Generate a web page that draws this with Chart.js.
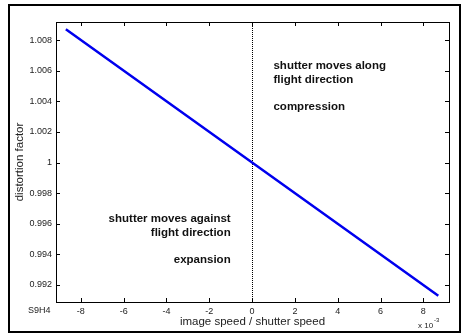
<!DOCTYPE html>
<html>
<head>
<meta charset="utf-8">
<script src="https://cdn.jsdelivr.net/npm/chart.js@4/dist/chart.umd.min.js"></script>
<style>
  html, body { margin: 0; padding: 0; background: #fff; }
  #wrap { width: 462px; height: 336px; position: relative; }
</style>
</head>
<body>
<div id="wrap"><canvas id="distChart"></canvas></div>
<script>
// image speed / shutter speed vs distortion factor
const speedRatio = [-0.0087, -0.004, 0, 0.004, 0.0087];
const distortion = [1.0087, 1.0040, 1.0000, 0.9960, 0.9913];

const xTicks = [-0.008, -0.006, -0.004, -0.002, 0, 0.002, 0.004, 0.006, 0.008];
const xTickLabels = ['-8', '-6', '-4', '-2', '0', '2', '4', '6', '8'];
const yTicks = [0.992, 0.994, 0.996, 0.998, 1, 1.002, 1.004, 1.006, 1.008];
const yTickLabels = ['0.992', '0.994', '0.996', '0.998', '1', '1.002', '1.004', '1.006', '1.008'];

const notes = [
  { x: 0.001, y: 1.0063, align: 'left', lines: ['shutter moves along', 'flight direction'] },
  { x: 0.001, y: 1.00362, align: 'left', lines: ['compression'] },
  { x: -0.001, y: 0.9963, align: 'right', lines: ['shutter moves against', 'flight direction'] },
  { x: -0.001, y: 0.99362, align: 'right', lines: ['expansion'] }
];

const FONT = 'Arial, "Liberation Sans", sans-serif';

// frame, inward ticks, zero line and text
const decorations = {
  id: 'decorations',
  beforeDatasetsDraw(chart) {
    const { ctx, chartArea: a, scales } = chart;
    const xs = scales.x;
    ctx.save();
    // dotted line at zero
    const x0 = Math.round(xs.getPixelForValue(0)) + 0.5;
    ctx.strokeStyle = '#000';
    ctx.lineWidth = 1;
    ctx.setLineDash([1, 1]);
    ctx.beginPath();
    ctx.moveTo(x0, a.top);
    ctx.lineTo(x0, a.bottom);
    ctx.stroke();
    ctx.setLineDash([]);
    ctx.restore();
  },
  afterDraw(chart) {
    const { ctx, chartArea: a, scales } = chart;
    const xs = scales.x, ys = scales.y;
    ctx.save();
    ctx.strokeStyle = '#000';
    // outer frame
    ctx.lineWidth = 2;
    ctx.strokeRect(9, 5, 451, 327);
    // axes box
    ctx.lineWidth = 1;
    ctx.strokeRect(a.left + 0.5, a.top + 0.5, a.right - a.left, a.bottom - a.top);
    // inward tick marks on all four sides
    ctx.beginPath();
    xTicks.forEach(v => {
      const px = Math.round(xs.getPixelForValue(v)) + 0.5;
      ctx.moveTo(px, a.bottom); ctx.lineTo(px, a.bottom - 4);
      ctx.moveTo(px, a.top); ctx.lineTo(px, a.top + 4);
    });
    yTicks.forEach(v => {
      const py = Math.round(ys.getPixelForValue(v)) + 0.5;
      ctx.moveTo(a.left, py); ctx.lineTo(a.left + 4, py);
      ctx.moveTo(a.right, py); ctx.lineTo(a.right - 4, py);
    });
    ctx.stroke();

    // annotations
    ctx.fillStyle = '#111';
    ctx.font = 'bold 11.5px ' + FONT;
    ctx.textBaseline = 'middle';
    notes.forEach(n => {
      ctx.textAlign = n.align;
      const px = xs.getPixelForValue(n.x);
      const py = ys.getPixelForValue(n.y);
      n.lines.forEach((t, i) => ctx.fillText(t, px, py + i * 14));
    });

    // axis titles
    ctx.fillStyle = '#222';
    ctx.font = '11.5px ' + FONT;
    ctx.textAlign = 'center';
    ctx.fillText('image speed / shutter speed', (a.left + a.right) / 2, 322);
    ctx.save();
    ctx.translate(20, (a.top + a.bottom) / 2);
    ctx.rotate(-Math.PI / 2);
    ctx.fillText('distortion factor', 0, 0);
    ctx.restore();

    // exponent and figure tag
    ctx.font = '8px ' + FONT;
    ctx.textAlign = 'left';
    ctx.fillText('x 10', 418, 326);
    ctx.font = '6px ' + FONT;
    ctx.fillText('-3', 434, 320);
    ctx.font = '9px ' + FONT;
    ctx.fillText('S9H4', 28, 311);
    ctx.restore();
  }
};

new Chart(document.getElementById('distChart'), {
  type: 'scatter',
  data: {
    datasets: [{
      data: speedRatio.map((v, i) => ({ x: v, y: distortion[i] })),
      showLine: true,
      borderColor: '#0000ee',
      borderWidth: 2.5,
      pointRadius: 0,
      tension: 0
    }]
  },
  options: {
    responsive: true,
    maintainAspectRatio: false,
    animation: false,
    layout: { padding: { top: 22, right: 13, left: 0, bottom: 0 } },
    plugins: { legend: { display: false }, tooltip: { enabled: false } },
    scales: {
      x: {
        type: 'linear',
        min: -0.00916,
        max: 0.0092,
        afterBuildTicks(scale) { scale.ticks = xTicks.map(v => ({ value: v })); },
        afterFit(scale) { scale.height = 34; },
        grid: { display: false, drawTicks: false },
        border: { display: false },
        ticks: {
          padding: 4,
          color: '#222',
          font: { family: FONT, size: 9 },
          maxRotation: 0,
          callback: (v, i) => xTickLabels[i]
        }
      },
      y: {
        type: 'linear',
        min: 0.99089,
        max: 1.00918,
        afterBuildTicks(scale) { scale.ticks = yTicks.map(v => ({ value: v })); },
        afterFit(scale) { scale.width = 56; },
        grid: { display: false, drawTicks: false },
        border: { display: false },
        ticks: {
          padding: 4,
          color: '#222',
          font: { family: FONT, size: 9 },
          callback: (v, i) => yTickLabels[i]
        }
      }
    }
  },
  plugins: [decorations]
});
</script>
</body>
</html>
